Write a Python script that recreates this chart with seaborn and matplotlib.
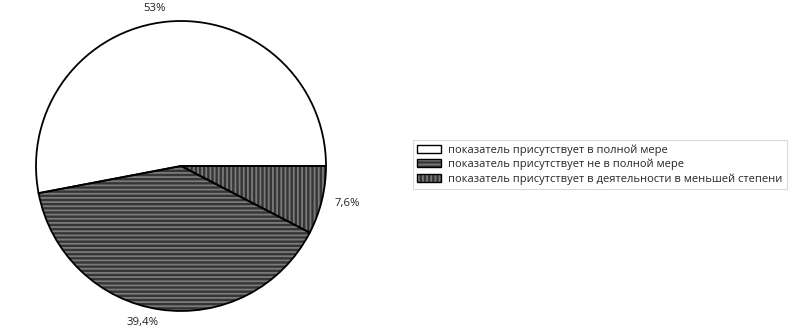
import matplotlib.pyplot as plt
import numpy as np
import pandas as pd
import seaborn as sns
from matplotlib.patches import Patch
from matplotlib.legend_handler import HandlerTuple

# данные
categories = ['показатель присутствует в полной мере',
              'показатель присутствует не в полной мере',
              'показатель присутствует в деятельности в меньшей степени']
values = [53, 39.4, 7.6]
value_labels = ['53%', '39,4%', '7,6%']

sns.set_theme(style='white')
plt.rcParams['font.family'] = ['Open Sans', 'DejaVu Sans']
plt.rcParams['hatch.linewidth'] = 1.3

fill_colors = ['white', '#353535', '#353535']
hatches = ['', '----', '||||']

fig = plt.figure(figsize=(7.98, 3.28), dpi=100)
ax = fig.add_axes([36 / 798, 17 / 328, 290 / 798, 290 / 328])

# заливка со штриховкой (цвет штриховки = цвет кромки)
wedges, _ = ax.pie(values, colors=fill_colors, startangle=0, counterclock=True,
                   wedgeprops=dict(edgecolor='#7a7a7a', linewidth=0))
for w, h in zip(wedges, hatches):
    w.set_hatch(h)

# контур и подписи
outline, texts = ax.pie(values, labels=value_labels, startangle=0, counterclock=True,
                        labeldistance=1.09,
                        wedgeprops=dict(facecolor='none', edgecolor='black', linewidth=1.3),
                        textprops=dict(fontsize=8.2, color='#222222'))
ax.set_xlim(-1, 1)
ax.set_ylim(-1, 1)
ax.set_aspect('equal')

handles = []
for c, h in zip(fill_colors, hatches):
    p1 = Patch(facecolor=c, edgecolor='#7a7a7a', hatch=h, linewidth=0)
    p2 = Patch(facecolor='none', edgecolor='black', linewidth=1.0)
    handles.append((p1, p2))

leg = fig.legend(handles, categories, handler_map={tuple: HandlerTuple(ndivide=1, pad=0)},
                 loc='upper left', bbox_to_anchor=(413 / 798, 1 - 140 / 328),
                 fontsize=8.05, frameon=True, fancybox=False, borderpad=0.4,
                 handlelength=2.1, handleheight=0.7, handletextpad=0.6, labelspacing=0.25,
                 borderaxespad=0)
leg.get_frame().set_edgecolor('#d0d0d0')
leg.get_frame().set_linewidth(0.8)

fig.savefig('out.png', dpi=100, facecolor='white')
